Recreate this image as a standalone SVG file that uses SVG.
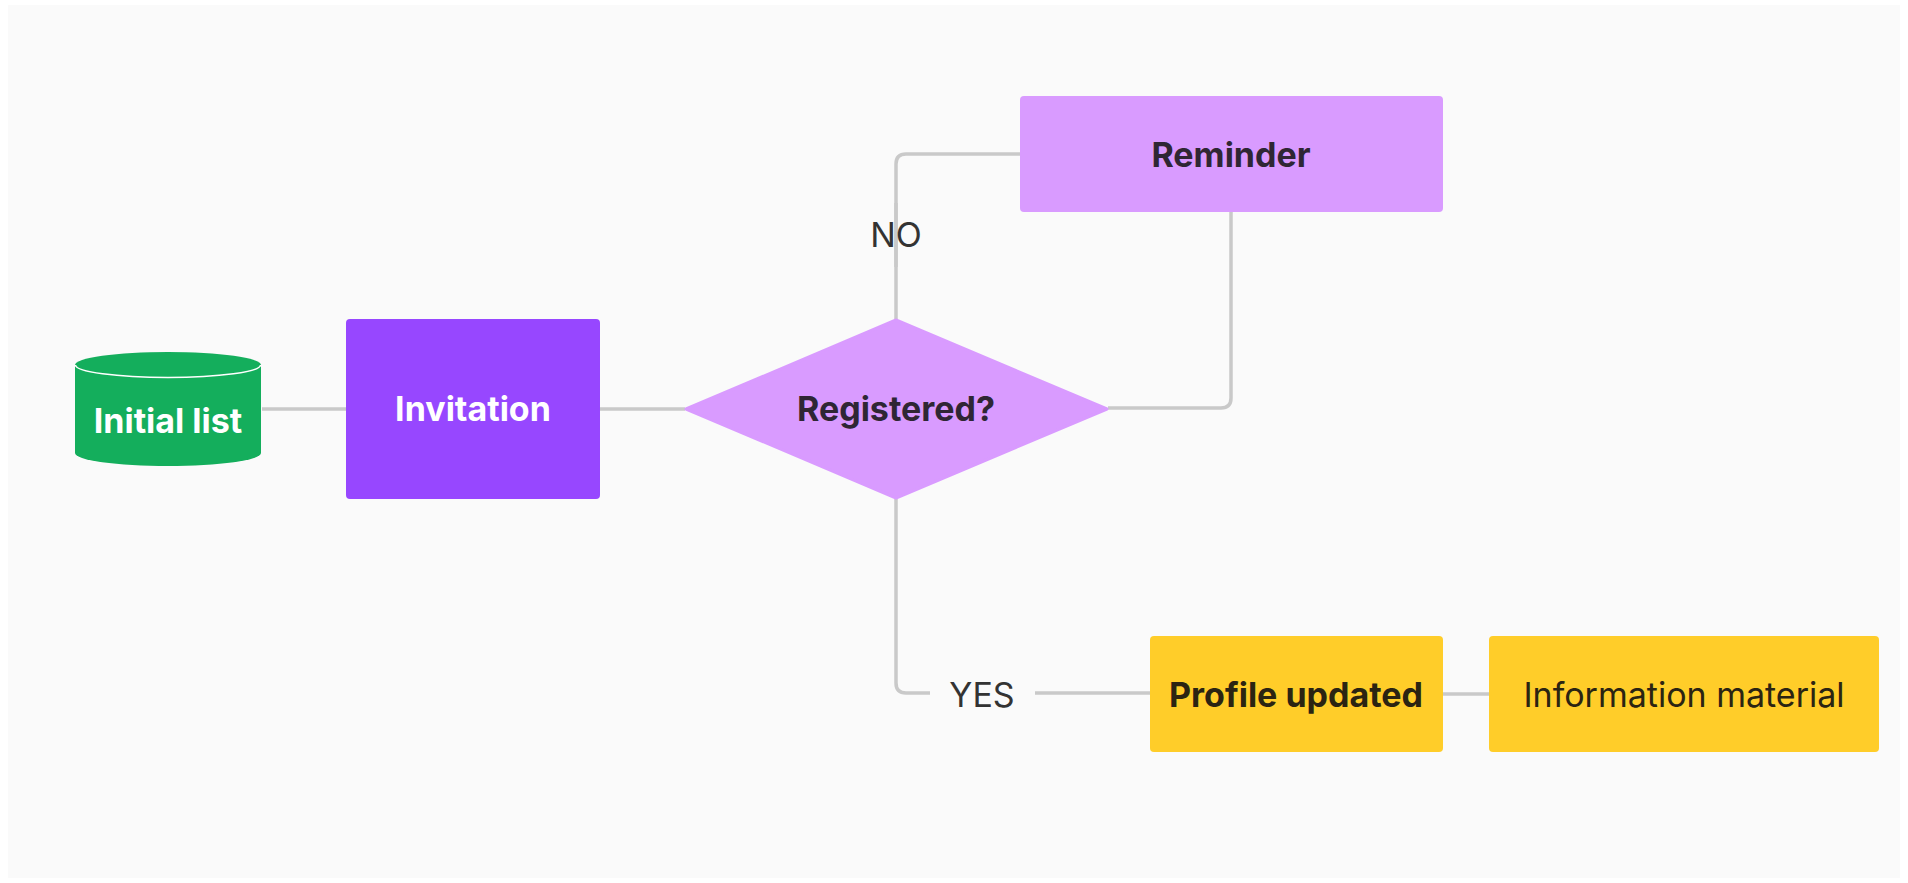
<svg xmlns="http://www.w3.org/2000/svg" width="1908" height="883" viewBox="0 0 1908 883">
<style>
.bg{fill:#fafafa}
.conn{fill:none;stroke:#c9c9c9;stroke-width:3.5;stroke-linejoin:round}
.lbl{font-family:Inter,"Noto Sans","Liberation Sans",sans-serif;font-size:34px;text-anchor:middle}
.b{font-weight:700}
.r{font-weight:400}
.w{fill:#ffffff}
.dk{fill:#2f2634}
.yk{fill:#2b2412}
.ek{fill:#333333}
</style>
<rect width="1908" height="883" fill="#ffffff"/>
<rect class="bg" x="8" y="5" width="1892" height="873"/>
<g id="connectors">
<path class="conn" d="M262 409 H346"/>
<path class="conn" d="M600 409 H685"/>
<path class="conn" d="M896 320 V203"/>
<path class="conn" d="M896 267 V164 Q896 154 906 154 H1020"/>
<path class="conn" d="M1231 212 V398 Q1231 408 1221 408 H1108"/>
<path class="conn" d="M896 498 V683 Q896 693 906 693 H930"/>
<path class="conn" d="M1035 693 H1150"/>
<path class="conn" d="M1443 694 H1489"/>
<text class="lbl r ek" x="896" y="247">NO</text>
<text class="lbl r ek" x="982" y="707">YES</text>
</g>
<g id="node-initial-list">
<path d="M75 365 V453 A93 13 0 0 0 261 453 V365 Z" fill="#14ae5c"/>
<ellipse cx="168" cy="365" rx="93" ry="13" fill="#14ae5c"/>
<path d="M75.5 365 A92.5 12.5 0 0 0 260.5 365" fill="none" stroke="#ffffff" stroke-width="1.5"/>
<text class="lbl b w" x="168" y="433">Initial list</text>
</g>
<g id="node-invitation">
<rect x="346" y="319" width="254" height="180" rx="4" fill="#9747ff"/>
<text class="lbl b w" x="473" y="421">Invitation</text>
</g>
<g id="node-registered">
<path d="M686 409 L896 320 L1107 409 L896 498 Z" fill="#d99bff" stroke="#d99bff" stroke-width="3" stroke-linejoin="round"/>
<text class="lbl b dk" x="896" y="421">Registered?</text>
</g>
<g id="node-reminder">
<rect x="1020" y="96" width="423" height="116" rx="4" fill="#d99bff"/>
<text class="lbl b dk" x="1231" y="167">Reminder</text>
</g>
<g id="node-profile-updated">
<rect x="1150" y="636" width="293" height="116" rx="4" fill="#ffcd29"/>
<text class="lbl b yk" x="1296" y="707">Profile updated</text>
</g>
<g id="node-information-material">
<rect x="1489" y="636" width="390" height="116" rx="4" fill="#ffcd29"/>
<text class="lbl r yk" x="1684" y="707">Information material</text>
</g>
</svg>
